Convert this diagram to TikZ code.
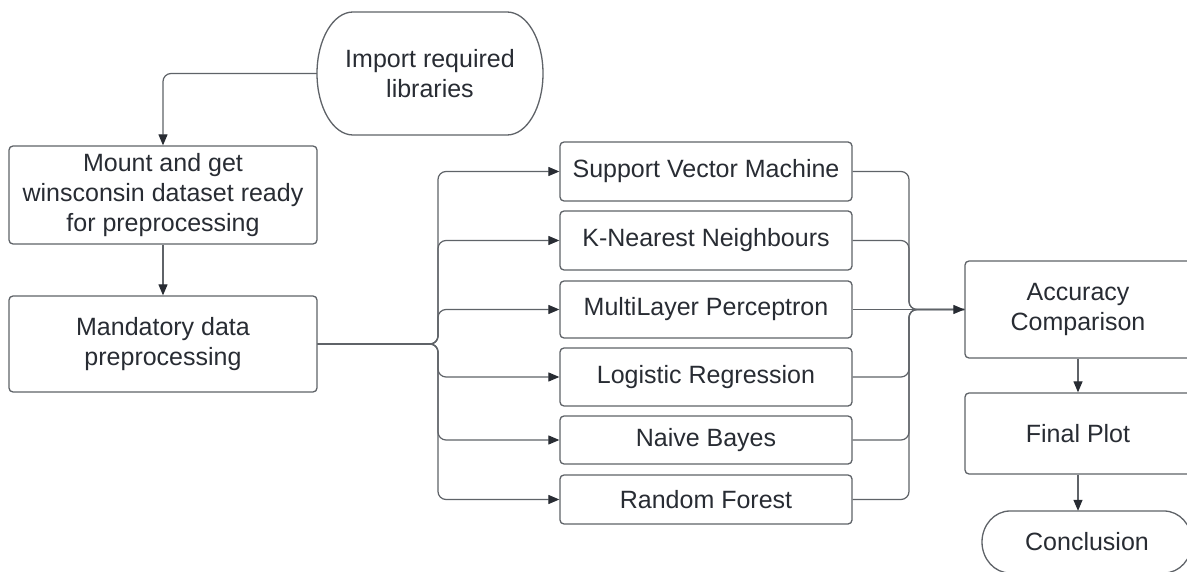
\documentclass[tikz,border=0pt]{standalone}
\usepackage{fontspec}
\setmainfont{Liberation Sans}
\usetikzlibrary{arrows.meta}
\definecolor{ink}{HTML}{282C33}
\definecolor{edge}{HTML}{5F6368}
\begin{document}
\begin{tikzpicture}[x=1pt,y=-1pt,
  txt/.style={text=ink, align=center, inner sep=0pt,
    font=\fontsize{25}{30}\selectfont},
  box/.style={txt, draw=edge, line width=1.3pt, rounded corners=4pt},
  shell/.style={draw=edge, line width=1.3pt},
  link/.style={draw=edge, line width=1.2pt, rounded corners=8pt},
  arr/.style={link, -{Triangle[length=11pt,width=9pt,color=ink]}}]

% canvas
\fill[white] (0,0) rectangle (1187,572);
\useasboundingbox (0,0) rectangle (1187,572);

% terminators (drawn as stadiums with elliptic ends)
\draw[shell] (353,12) -- (507,12)
  arc[start angle=90,end angle=-90,x radius=36pt,y radius=61.5pt]
  -- (353,135)
  arc[start angle=-90,end angle=-270,x radius=36pt,y radius=61.5pt] -- cycle;
\node[txt, minimum width=226pt, minimum height=123pt] (imp) at (430,73.5)
  {Import required\\libraries};

\draw[shell] (1010,511) -- (1164,511)
  arc[start angle=90,end angle=-90,x radius=28pt,y radius=31pt]
  -- (1010,573)
  arc[start angle=-90,end angle=-270,x radius=28pt,y radius=31pt] -- cycle;
\node[txt, minimum width=210pt, minimum height=62pt] (concl) at (1087,542)
  {Conclusion};

% process boxes
\node[box, minimum width=308pt, minimum height=98pt] (mount) at (163,195)
  {Mount and get\\winsconsin dataset ready\\for preprocessing};
\node[box, minimum width=308pt, minimum height=96pt] (mand) at (163,344)
  {Mandatory data\\preprocessing};

% classifiers
\node[box, minimum width=292pt, minimum height=59pt] (svm) at (706,171.5) {Support Vector Machine};
\node[box, minimum width=292pt, minimum height=59pt] (knn) at (706,240.5) {K-Nearest Neighbours};
\node[box, minimum width=292pt, minimum height=57pt] (mlp) at (706,309.5) {MultiLayer Perceptron};
\node[box, minimum width=292pt, minimum height=58pt] (lr)  at (706,377)   {Logistic Regression};
\node[box, minimum width=292pt, minimum height=48pt] (nb)  at (706,440)   {Naive Bayes};
\node[box, minimum width=292pt, minimum height=49pt] (rf)  at (706,499.5) {Random Forest};

% evaluation
\node[box, minimum width=226pt, minimum height=97pt] (acc) at (1078,309.5)
  {Accuracy\\Comparison};
\node[box, minimum width=226pt, minimum height=81pt] (fin) at (1078,433.5)
  {Final Plot};

% connectors
\draw[arr] (imp.west) -| (mount.north);
\draw[arr] (mount.south) -- (mand.north);

\coordinate (split) at (438,344);
\coordinate (join) at (909,309.5);
\foreach \m in {svm,knn,mlp,lr,nb,rf}
  \draw[arr] (mand.east) -- (split) |- (\m.west);
\foreach \m in {svm,knn,lr,nb,rf}
  \draw[link] (\m.east) -| (join) -- (acc.west);
\draw[arr] (mlp.east) -- (acc.west);

\draw[arr] (acc.south) -- (fin.north);
\draw[arr] (fin.south) -- (fin.south |- concl.north);
\end{tikzpicture}
\end{document}
